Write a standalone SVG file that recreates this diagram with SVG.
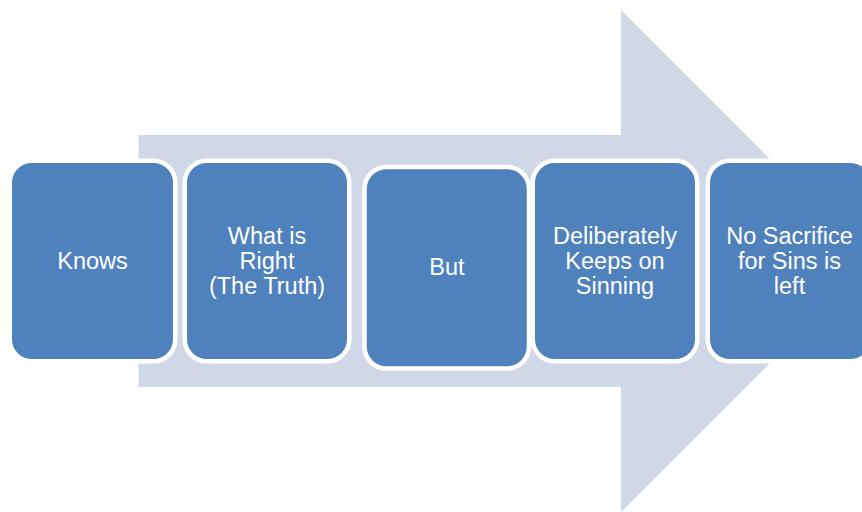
<svg xmlns="http://www.w3.org/2000/svg" width="862" height="512" viewBox="0 0 862 512">
<style>
.box{fill:#4F81BD;stroke:#FFFFFF;stroke-width:4.5}
.lbl{font-family:"Liberation Sans",Arial,sans-serif;font-size:23.5px;fill:#FFFFFF;text-anchor:middle}
</style>
<rect width="862" height="512" fill="#FFFFFF"/>
<g id="arrow">
<path d="M138.5,135 L621,135 L621,10 L872,261 L621,512 L621,387 L138.5,387 Z" fill="#D0D8E8"/>
</g>
<g id="connectors"></g>
<g id="node1">
<rect class="box" x="9.75" y="160.75" width="165.5" height="200.5" rx="22"/>
<text class="lbl" x="92.5" y="269">Knows</text>
</g>
<g id="node2">
<rect class="box" x="184.75" y="160.75" width="164.5" height="200.5" rx="22"/>
<text class="lbl" x="267" y="244.3">What is</text>
<text class="lbl" x="267" y="269">Right</text>
<text class="lbl" x="267" y="293.7">(The Truth)</text>
</g>
<g id="node3">
<rect class="box" x="364.5" y="167" width="164.5" height="201.5" rx="22"/>
<text class="lbl" x="447" y="274.5">But</text>
</g>
<g id="node4">
<rect class="box" x="532.75" y="160.75" width="164.5" height="200.5" rx="22"/>
<text class="lbl" x="615" y="244.3">Deliberately</text>
<text class="lbl" x="615" y="269">Keeps on</text>
<text class="lbl" x="615" y="293.7">Sinning</text>
</g>
<g id="node5">
<rect class="box" x="707.75" y="160.75" width="164.5" height="200.5" rx="22"/>
<text class="lbl" x="789.5" y="244.3">No Sacrifice</text>
<text class="lbl" x="789.5" y="269">for Sins is</text>
<text class="lbl" x="789.5" y="293.7">left</text>
</g>
</svg>
